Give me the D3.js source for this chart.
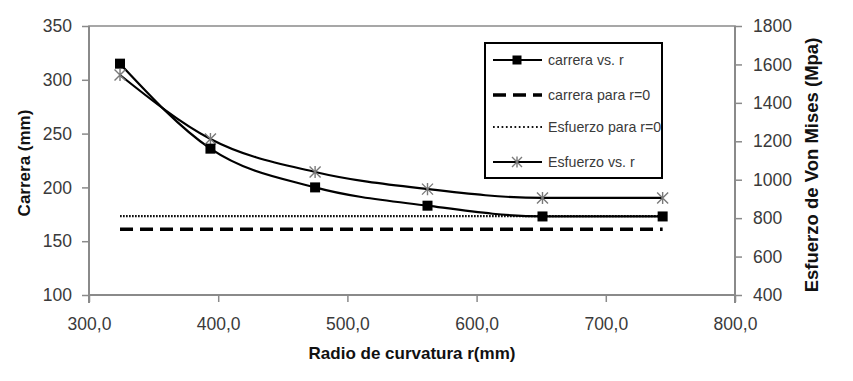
<!DOCTYPE html>
<html><head><meta charset="utf-8">
<script src="https://cdn.jsdelivr.net/npm/d3@7"></script>
<style>
body{margin:0;background:#fff;}
svg{display:block;font-family:"Liberation Sans",Arial,sans-serif;}
</style></head>
<body><svg id="c" width="853" height="381"></svg>
<script>
// Data
const radio = [324, 394, 475, 562, 651, 744];
const carrera = [315, 236, 200, 183, 173, 173];
const esfuerzo = [1545, 1212, 1040, 951, 905, 905];
const carreraR0 = [161, 161];
const esfuerzoR0 = [810, 810];
const xTicks = [300, 400, 500, 600, 700, 800];
const yLeftTicks = [100, 150, 200, 250, 300, 350];
const yRightTicks = [400, 600, 800, 1000, 1200, 1400, 1600, 1800];
const legendLabels = ["carrera vs. r", "carrera para r=0", "Esfuerzo para r=0", "Esfuerzo vs. r"];

const L = 89, R = 735, T = 26, B = 295;
const svg = d3.select("#c");
const x = d3.scaleLinear().domain([300, 800]).range([L, R]);
const yL = d3.scaleLinear().domain([100, 350]).range([B, T]);
const yR = d3.scaleLinear().domain([400, 1800]).range([B, T]);

const axisColor = "#8a8a8a", textColor = "#3a3a3a";

// plot border
svg.append("rect").attr("x", L).attr("y", T).attr("width", R - L).attr("height", B - T)
  .attr("fill", "none").attr("stroke", axisColor).attr("stroke-width", 1.5);

function styleAxis(g) {
  g.selectAll(".domain").attr("stroke", axisColor).attr("stroke-width", 2);
  g.selectAll(".tick line").attr("stroke", axisColor).attr("stroke-width", 1.5);
  g.selectAll(".tick text").attr("fill", textColor).attr("font-size", "17.5px")
    .attr("font-family", "Liberation Sans, Arial, sans-serif");
}

const gx = svg.append("g").attr("transform", `translate(0,${B})`)
  .call(d3.axisBottom(x).tickValues(xTicks).tickSize(7).tickSizeOuter(0).tickPadding(16)
    .tickFormat(d => d3.format(".1f")(d).replace(".", ",")));
styleAxis(gx);
gx.select(".domain").attr("d", `M${L},0H${R}`);

const gl = svg.append("g").attr("transform", `translate(${L},0)`)
  .call(d3.axisLeft(yL).tickValues(yLeftTicks).tickSize(7).tickSizeOuter(0).tickPadding(10)
    .tickFormat(d3.format("d")));
styleAxis(gl);
gl.select(".domain").attr("d", `M0,${T}V${B + 8}`);

const gr = svg.append("g").attr("transform", `translate(${R},0)`)
  .call(d3.axisRight(yR).tickValues(yRightTicks).tickSize(7).tickSizeOuter(0).tickPadding(11)
    .tickFormat(d3.format("d")));
styleAxis(gr);
gr.select(".domain").attr("d", `M0,${T}V${B + 8}`);

// axis titles
svg.append("text").attr("x", (L + R) / 2).attr("y", 359).attr("text-anchor", "middle")
  .attr("font-weight", "bold").attr("font-size", "17px").attr("fill", "#111")
  .text("Radio de curvatura r(mm)");
svg.append("text").attr("transform", "translate(30,163) rotate(-90)").attr("text-anchor", "middle")
  .attr("font-weight", "bold").attr("font-size", "17px").attr("fill", "#111")
  .text("Carrera (mm)");
svg.append("text").attr("transform", "translate(818,165) rotate(-90)").attr("text-anchor", "middle")
  .attr("font-weight", "bold").attr("font-size", "18.5px").attr("fill", "#111")
  .text("Esfuerzo de Von Mises (Mpa)");

// reference lines
const rEnds = [radio[0], radio[radio.length - 1]];
svg.append("path").attr("fill", "none").attr("stroke", "#000").attr("stroke-width", 3.5)
  .attr("stroke-dasharray", "13,7")
  .attr("d", d3.line().x((d, i) => x(rEnds[i])).y(d => yL(d))(carreraR0));
svg.append("path").attr("fill", "none").attr("stroke", "#111").attr("stroke-width", 2.2)
  .attr("stroke-dasharray", "1.7,1.3")
  .attr("d", d3.line().x((d, i) => x(rEnds[i])).y(d => yR(d))(esfuerzoR0));

// curves
const curve = d3.curveMonotoneX;
svg.append("path").attr("fill", "none").attr("stroke", "#000").attr("stroke-width", 2.2)
  .attr("d", d3.line().curve(curve).x((d, i) => x(radio[i])).y(d => yR(d))(esfuerzo));
svg.append("path").attr("fill", "none").attr("stroke", "#000").attr("stroke-width", 2.2)
  .attr("d", d3.line().curve(curve).x((d, i) => x(radio[i])).y(d => yL(d))(carrera));

function star(g, cx, cy, s) {
  const h = s / 2;
  g.append("path").attr("d",
    `M${cx - h},${cy - h}L${cx + h},${cy + h}M${cx - h},${cy + h}L${cx + h},${cy - h}M${cx},${cy - h * 1.1}V${cy + h * 1.1}`)
    .attr("stroke", "#7a7a7a").attr("stroke-width", 1.4).attr("fill", "none");
}
const markers = svg.append("g");
esfuerzo.forEach((v, i) => star(markers, x(radio[i]), yR(v), 11));
carrera.forEach((v, i) => {
  markers.append("rect").attr("x", x(radio[i]) - 5).attr("y", yL(v) - 5)
    .attr("width", 10).attr("height", 10).attr("fill", "#000");
});

// legend
const lg = svg.append("g");
lg.append("rect").attr("x", 485).attr("y", 43).attr("width", 177).attr("height", 135)
  .attr("fill", "#fff").attr("stroke", "#000").attr("stroke-width", 2);
const rows = [60, 95, 127, 162];
const lx0 = 493, lx1 = 542, lmid = 517;
rows.forEach((y, i) => {
  const ln = lg.append("line").attr("x1", lx0).attr("x2", lx1).attr("y1", y).attr("y2", y)
    .attr("stroke", "#000");
  if (i === 0 || i === 3) ln.attr("stroke-width", 2.2);
  if (i === 1) ln.attr("stroke-width", 3.5).attr("stroke-dasharray", "13,7");
  if (i === 2) ln.attr("stroke-width", 2.2).attr("stroke-dasharray", "1.7,2.6").attr("stroke", "#111");
  if (i === 0) lg.append("rect").attr("x", lmid - 4.5).attr("y", y - 4.5).attr("width", 9).attr("height", 9).attr("fill", "#000");
  if (i === 3) star(lg, lmid, y, 10);
  lg.append("text").attr("x", 548).attr("y", y).attr("dy", "0.35em")
    .attr("font-size", "14.2px").attr("fill", textColor).text(legendLabels[i]);
});
</script></body></html>
